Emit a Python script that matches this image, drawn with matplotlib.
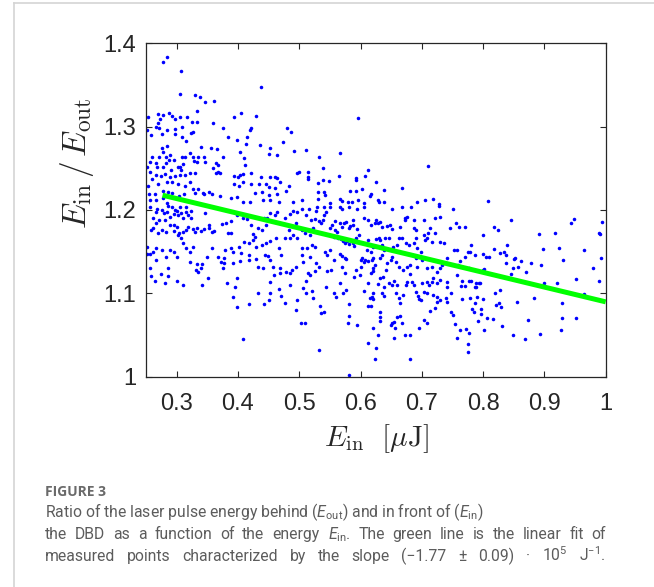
import matplotlib
matplotlib.use('Agg')
import matplotlib.pyplot as plt
from matplotlib.lines import Line2D
import numpy as np

# (E_in [uJ], E_in/E_out), region by region
pts_left_top = [
    (0.284, 1.384), (0.278, 1.377), (0.307, 1.367), (0.437, 1.348), (0.306, 1.339),
    (0.330, 1.338), (0.338, 1.336), (0.346, 1.329), (0.361, 1.331), (0.334, 1.319),
    (0.254, 1.312), (0.270, 1.315), (0.277, 1.314), (0.288, 1.316), (0.292, 1.313),
    (0.305, 1.312), (0.317, 1.312), (0.325, 1.306), (0.333, 1.305), (0.297, 1.309),
    (0.273, 1.309), (0.270, 1.304), (0.266, 1.300), (0.272, 1.298), (0.360, 1.304),
    (0.393, 1.312), (0.405, 1.316), (0.430, 1.313), (0.422, 1.298), (0.420, 1.296),
    (0.376, 1.298), (0.327, 1.294), (0.323, 1.292), (0.308, 1.299), (0.297, 1.297),
    (0.284, 1.296), (0.276, 1.291), (0.258, 1.290), (0.251, 1.296), (0.297, 1.291),
    (0.309, 1.287), (0.315, 1.283), (0.383, 1.288), (0.398, 1.284), (0.414, 1.287),
    (0.413, 1.279), (0.436, 1.278), (0.473, 1.282), (0.480, 1.298), (0.486, 1.293),
    (0.491, 1.271), (0.452, 1.274), (0.451, 1.267), (0.463, 1.266), (0.404, 1.269),
    (0.410, 1.262), (0.411, 1.254), (0.376, 1.263), (0.366, 1.273), (0.356, 1.274),
    (0.340, 1.275), (0.321, 1.268), (0.309, 1.264), (0.313, 1.263), (0.327, 1.264),
    (0.335, 1.263), (0.345, 1.263), (0.347, 1.257), (0.333, 1.258), (0.329, 1.259),
    (0.310, 1.255), (0.305, 1.251), (0.302, 1.252), (0.296, 1.260), (0.289, 1.266),
    (0.285, 1.277), (0.276, 1.274), (0.278, 1.269), (0.283, 1.264), (0.288, 1.260),
    (0.282, 1.256), (0.272, 1.263), (0.267, 1.256), (0.268, 1.251), (0.259, 1.264),
    (0.257, 1.257), (0.252, 1.251), (0.257, 1.245), (0.267, 1.242), (0.259, 1.237),
    (0.274, 1.241), (0.281, 1.243), (0.289, 1.239), (0.297, 1.241), (0.305, 1.242),
    (0.314, 1.242), (0.322, 1.244), (0.330, 1.244), (0.307, 1.248), (0.290, 1.248),
    (0.278, 1.251), (0.254, 1.229), (0.270, 1.231), (0.284, 1.233), (0.292, 1.233),
    (0.302, 1.231), (0.313, 1.229), (0.322, 1.233), (0.327, 1.225), (0.335, 1.225),
    (0.343, 1.220), (0.352, 1.221), (0.359, 1.250), (0.364, 1.256), (0.367, 1.254),
    (0.364, 1.244), (0.368, 1.246), (0.371, 1.244), (0.393, 1.241), (0.400, 1.239),
    (0.403, 1.242), (0.409, 1.243), (0.422, 1.244), (0.393, 1.231), (0.401, 1.229),
    (0.409, 1.233), (0.421, 1.231), (0.434, 1.231), (0.437, 1.239), (0.453, 1.240),
    (0.460, 1.240), (0.464, 1.238), (0.468, 1.234), (0.461, 1.226), (0.451, 1.227),
    (0.446, 1.231), (0.428, 1.220), (0.440, 1.221), (0.450, 1.218), (0.463, 1.219),
    (0.479, 1.223), (0.483, 1.229), (0.496, 1.244), (0.499, 1.246), (0.490, 1.210),
    (0.467, 1.210), (0.453, 1.212), (0.441, 1.212), (0.420, 1.210), (0.409, 1.210),
    (0.398, 1.215), (0.389, 1.214), (0.370, 1.217), (0.358, 1.219), (0.345, 1.219),
    (0.330, 1.220), (0.312, 1.219), (0.304, 1.217), (0.293, 1.220), (0.286, 1.222),
    (0.277, 1.223), (0.265, 1.219), (0.255, 1.219), (0.257, 1.212), (0.267, 1.212),
    (0.277, 1.214), (0.284, 1.208),
]

pts_left_bottom = [
    (0.257, 1.204), (0.268, 1.201), (0.267, 1.198), (0.276, 1.200), (0.279, 1.196),
    (0.286, 1.205), (0.285, 1.198), (0.293, 1.204), (0.297, 1.200), (0.301, 1.199),
    (0.305, 1.203), (0.307, 1.197), (0.315, 1.203), (0.315, 1.198), (0.323, 1.199),
    (0.319, 1.194), (0.324, 1.190), (0.311, 1.190), (0.303, 1.194), (0.296, 1.195),
    (0.289, 1.192), (0.281, 1.188), (0.272, 1.188), (0.262, 1.190), (0.266, 1.184),
    (0.262, 1.179), (0.258, 1.176), (0.270, 1.172), (0.276, 1.176), (0.283, 1.174),
    (0.289, 1.182), (0.295, 1.182), (0.300, 1.180), (0.296, 1.175), (0.303, 1.170),
    (0.307, 1.166), (0.304, 1.172), (0.310, 1.174), (0.316, 1.176), (0.319, 1.180),
    (0.326, 1.177), (0.330, 1.174), (0.334, 1.178), (0.339, 1.175), (0.345, 1.177),
    (0.353, 1.178), (0.357, 1.174), (0.361, 1.175), (0.352, 1.182), (0.346, 1.196),
    (0.374, 1.183), (0.380, 1.184), (0.388, 1.187), (0.384, 1.172), (0.389, 1.172),
    (0.398, 1.194), (0.409, 1.191), (0.414, 1.189), (0.422, 1.182), (0.425, 1.171),
    (0.428, 1.168), (0.433, 1.178), (0.439, 1.176), (0.446, 1.182), (0.442, 1.190),
    (0.448, 1.191), (0.452, 1.197), (0.460, 1.194), (0.463, 1.198), (0.477, 1.190),
    (0.485, 1.195), (0.490, 1.199), (0.497, 1.198), (0.495, 1.185), (0.484, 1.176),
    (0.490, 1.170), (0.485, 1.166), (0.477, 1.166), (0.467, 1.155), (0.462, 1.166),
    (0.452, 1.163), (0.446, 1.160), (0.439, 1.158), (0.430, 1.156), (0.425, 1.164),
    (0.418, 1.161), (0.410, 1.162), (0.401, 1.156), (0.392, 1.150), (0.388, 1.155),
    (0.379, 1.152), (0.378, 1.143), (0.378, 1.136), (0.373, 1.138), (0.368, 1.144),
    (0.357, 1.154), (0.349, 1.144), (0.342, 1.135), (0.339, 1.130), (0.333, 1.135),
    (0.327, 1.156), (0.322, 1.150), (0.316, 1.154), (0.311, 1.160), (0.300, 1.144),
    (0.295, 1.150), (0.289, 1.152), (0.283, 1.144), (0.276, 1.152), (0.267, 1.154),
    (0.262, 1.150), (0.252, 1.156), (0.251, 1.147), (0.257, 1.147), (0.267, 1.140),
    (0.257, 1.130), (0.258, 1.121), (0.265, 1.115), (0.274, 1.123), (0.281, 1.113),
    (0.286, 1.130), (0.286, 1.121), (0.301, 1.115), (0.311, 1.110), (0.322, 1.138),
    (0.332, 1.128), (0.335, 1.126), (0.341, 1.110), (0.351, 1.119), (0.375, 1.130),
    (0.382, 1.112), (0.392, 1.137), (0.403, 1.139), (0.405, 1.148), (0.418, 1.146),
    (0.418, 1.140), (0.429, 1.141), (0.433, 1.132), (0.441, 1.130), (0.444, 1.146),
    (0.449, 1.145), (0.452, 1.140), (0.457, 1.132), (0.459, 1.122), (0.452, 1.114),
    (0.468, 1.130), (0.470, 1.146), (0.468, 1.124), (0.479, 1.126), (0.485, 1.124),
    (0.488, 1.128), (0.495, 1.132), (0.497, 1.166), (0.485, 1.110), (0.467, 1.105),
    (0.471, 1.097), (0.476, 1.089), (0.453, 1.100), (0.451, 1.092), (0.442, 1.087),
    (0.432, 1.101), (0.418, 1.087), (0.399, 1.118), (0.396, 1.108), (0.392, 1.096),
    (0.398, 1.084), (0.409, 1.045), (0.497, 1.092), (0.495, 1.080),
]

pts_mid_top = [
    (0.596, 1.310), (0.511, 1.272), (0.532, 1.264), (0.567, 1.268), (0.710, 1.253),
    (0.538, 1.250), (0.514, 1.246), (0.515, 1.240), (0.515, 1.237), (0.565, 1.241),
    (0.592, 1.238), (0.592, 1.236), (0.608, 1.241), (0.612, 1.248), (0.626, 1.234),
    (0.538, 1.236), (0.548, 1.235), (0.531, 1.232), (0.530, 1.221), (0.540, 1.221),
    (0.542, 1.218), (0.583, 1.223), (0.592, 1.223), (0.602, 1.225), (0.616, 1.217),
    (0.617, 1.219), (0.638, 1.224), (0.667, 1.226), (0.567, 1.213), (0.569, 1.211),
    (0.579, 1.209), (0.586, 1.210), (0.596, 1.212), (0.605, 1.208), (0.629, 1.212),
    (0.630, 1.210), (0.639, 1.210), (0.692, 1.210), (0.706, 1.212), (0.718, 1.213),
    (0.728, 1.207), (0.504, 1.212), (0.530, 1.213), (0.550, 1.208), (0.808, 1.211),
]

pts_mid_bottom = [
    (0.504, 1.201), (0.516, 1.201), (0.528, 1.199), (0.529, 1.204), (0.541, 1.203),
    (0.543, 1.198), (0.541, 1.194), (0.551, 1.204), (0.566, 1.203), (0.569, 1.201),
    (0.581, 1.204), (0.594, 1.201), (0.606, 1.204), (0.652, 1.201), (0.668, 1.203),
    (0.683, 1.204), (0.728, 1.205), (0.751, 1.201), (0.511, 1.194), (0.519, 1.188),
    (0.526, 1.189), (0.532, 1.187), (0.535, 1.184), (0.539, 1.188), (0.522, 1.178),
    (0.529, 1.174), (0.518, 1.170), (0.510, 1.172), (0.504, 1.176), (0.504, 1.154),
    (0.504, 1.146), (0.506, 1.138), (0.513, 1.155), (0.521, 1.158), (0.526, 1.156),
    (0.518, 1.144), (0.528, 1.136), (0.532, 1.132), (0.526, 1.127), (0.518, 1.122),
    (0.514, 1.125), (0.511, 1.115), (0.506, 1.106), (0.511, 1.101), (0.521, 1.103),
    (0.523, 1.094), (0.534, 1.085), (0.535, 1.076), (0.540, 1.078), (0.503, 1.064),
    (0.510, 1.065), (0.532, 1.032), (0.544, 1.108), (0.546, 1.127), (0.552, 1.128),
    (0.550, 1.178), (0.553, 1.182), (0.559, 1.176), (0.562, 1.174), (0.559, 1.187),
    (0.566, 1.185), (0.570, 1.180), (0.573, 1.185), (0.576, 1.186), (0.582, 1.178),
    (0.583, 1.181), (0.587, 1.188), (0.588, 1.182), (0.556, 1.168), (0.564, 1.166),
    (0.568, 1.165), (0.572, 1.163), (0.575, 1.161), (0.578, 1.163), (0.581, 1.159),
    (0.588, 1.160), (0.590, 1.157), (0.595, 1.177), (0.597, 1.170), (0.593, 1.166),
    (0.556, 1.140), (0.567, 1.147), (0.570, 1.145), (0.574, 1.142), (0.577, 1.141),
    (0.569, 1.132), (0.551, 1.152), (0.542, 1.150), (0.546, 1.146), (0.566, 1.113),
    (0.572, 1.100), (0.576, 1.104), (0.556, 1.100), (0.560, 1.096), (0.581, 1.087),
    (0.582, 1.073), (0.579, 1.065), (0.595, 1.062), (0.575, 1.124), (0.589, 1.120),
    (0.599, 1.122), (0.593, 1.128), (0.601, 1.132), (0.605, 1.138), (0.600, 1.140),
    (0.602, 1.142), (0.608, 1.140), (0.613, 1.139), (0.619, 1.140), (0.620, 1.143),
    (0.610, 1.152), (0.617, 1.150), (0.621, 1.156), (0.613, 1.164), (0.605, 1.103),
    (0.613, 1.112), (0.617, 1.124), (0.620, 1.127), (0.621, 1.130), (0.624, 1.134),
    (0.632, 1.142), (0.635, 1.146), (0.638, 1.152), (0.635, 1.158), (0.626, 1.165),
    (0.630, 1.167), (0.632, 1.164), (0.640, 1.166), (0.646, 1.166), (0.653, 1.156),
    (0.650, 1.152), (0.660, 1.158), (0.662, 1.167), (0.668, 1.166), (0.675, 1.161),
    (0.679, 1.158), (0.687, 1.161), (0.690, 1.166), (0.692, 1.155), (0.699, 1.150),
    (0.706, 1.164), (0.710, 1.172), (0.709, 1.166), (0.717, 1.162), (0.703, 1.170),
    (0.688, 1.178), (0.687, 1.188), (0.690, 1.176), (0.673, 1.188), (0.676, 1.192),
    (0.672, 1.190), (0.665, 1.180), (0.651, 1.177), (0.648, 1.182), (0.644, 1.181),
    (0.635, 1.180), (0.632, 1.186), (0.628, 1.185), (0.626, 1.188), (0.623, 1.184),
    (0.617, 1.182), (0.613, 1.188), (0.605, 1.190), (0.722, 1.190), (0.729, 1.192),
    (0.704, 1.188), (0.713, 1.178), (0.722, 1.172), (0.730, 1.162), (0.737, 1.160),
    (0.746, 1.178), (0.752, 1.152), (0.741, 1.142), (0.733, 1.134), (0.729, 1.130),
    (0.724, 1.126), (0.717, 1.132), (0.709, 1.130), (0.700, 1.140), (0.692, 1.132),
    (0.690, 1.142), (0.681, 1.134), (0.676, 1.132), (0.670, 1.128), (0.662, 1.132),
    (0.658, 1.138), (0.651, 1.144), (0.649, 1.140), (0.644, 1.136), (0.642, 1.128),
    (0.637, 1.120), (0.631, 1.118), (0.638, 1.108), (0.635, 1.100), (0.628, 1.111),
    (0.621, 1.101), (0.619, 1.096), (0.616, 1.094), (0.613, 1.085), (0.617, 1.085),
    (0.621, 1.093), (0.631, 1.078), (0.632, 1.072), (0.632, 1.067), (0.620, 1.059),
    (0.628, 1.050), (0.626, 1.035), (0.624, 1.021), (0.613, 1.041), (0.639, 1.097),
    (0.646, 1.113), (0.651, 1.110), (0.655, 1.115), (0.660, 1.110), (0.658, 1.100),
    (0.662, 1.094), (0.665, 1.088), (0.670, 1.098), (0.675, 1.110), (0.676, 1.114),
    (0.681, 1.123), (0.684, 1.114), (0.688, 1.110), (0.691, 1.102), (0.693, 1.097),
    (0.696, 1.093), (0.699, 1.092), (0.704, 1.102), (0.709, 1.100), (0.711, 1.110),
    (0.717, 1.114), (0.719, 1.098), (0.725, 1.096), (0.730, 1.092), (0.724, 1.090),
    (0.722, 1.082), (0.714, 1.079), (0.704, 1.068), (0.709, 1.065), (0.695, 1.059),
    (0.681, 1.050), (0.681, 1.021), (0.672, 1.050), (0.665, 1.073), (0.668, 1.064),
    (0.660, 1.072), (0.655, 1.066), (0.651, 1.064), (0.650, 1.062), (0.655, 1.047),
    (0.657, 1.059), (0.740, 1.094), (0.741, 1.090), (0.747, 1.101), (0.748, 1.078),
    (0.751, 1.074), (0.754, 1.063), (0.741, 1.108), (0.741, 1.114), (0.725, 1.112),
    (0.729, 1.116), (0.719, 1.118), (0.709, 1.114), (0.700, 1.113), (0.581, 1.002),
]

pts_right = [
    (0.756, 1.184), (0.761, 1.180), (0.771, 1.180), (0.845, 1.188), (0.818, 1.180),
    (0.824, 1.176), (0.800, 1.170), (0.780, 1.158), (0.776, 1.150), (0.778, 1.150),
    (0.771, 1.144), (0.787, 1.146), (0.800, 1.147), (0.805, 1.144), (0.809, 1.144),
    (0.818, 1.153), (0.828, 1.149), (0.834, 1.150), (0.838, 1.146), (0.839, 1.158),
    (0.838, 1.137), (0.850, 1.141), (0.852, 1.143), (0.857, 1.132), (0.861, 1.139),
    (0.848, 1.131), (0.845, 1.123), (0.870, 1.126), (0.878, 1.136), (0.891, 1.171),
    (0.897, 1.153), (0.894, 1.134), (0.899, 1.113), (0.918, 1.173), (0.923, 1.155),
    (0.931, 1.140), (0.943, 1.184), (0.949, 1.189), (0.965, 1.152), (0.989, 1.173),
    (0.990, 1.171), (0.994, 1.186), (0.993, 1.142), (0.979, 1.131), (0.989, 1.115),
    (0.952, 1.117), (0.920, 1.112), (0.964, 1.099), (0.951, 1.071), (0.928, 1.088),
    (0.928, 1.071), (0.927, 1.056), (0.892, 1.051), (0.883, 1.095), (0.873, 1.068),
    (0.868, 1.045), (0.848, 1.050), (0.856, 1.090), (0.831, 1.061), (0.829, 1.084),
    (0.826, 1.088), (0.821, 1.086), (0.828, 1.104), (0.819, 1.100), (0.816, 1.069),
    (0.806, 1.070), (0.802, 1.056), (0.799, 1.093), (0.796, 1.081), (0.796, 1.075),
    (0.792, 1.067), (0.790, 1.096), (0.787, 1.088), (0.782, 1.081), (0.785, 1.078),
    (0.778, 1.095), (0.793, 1.113), (0.795, 1.113), (0.789, 1.113), (0.786, 1.108),
    (0.789, 1.108), (0.777, 1.115), (0.780, 1.115), (0.766, 1.115), (0.764, 1.109),
    (0.770, 1.109), (0.765, 1.093), (0.763, 1.056), (0.772, 1.057), (0.777, 1.053),
    (0.758, 1.047), (0.776, 1.039), (0.775, 1.030), (0.799, 1.128), (0.801, 1.129),
    (0.777, 1.131), (0.758, 1.122), (0.763, 1.139), (0.759, 1.134), (0.757, 1.152),
]

# linear fit (green line), slope per uJ
fit_slope = -0.177
fit_intercept = 1.2668
fit_range = [0.277, 1.0]

xticks = [0.3, 0.4, 0.5, 0.6, 0.7, 0.8, 0.9, 1.0]
xtick_labels = ['0.3', '0.4', '0.5', '0.6', '0.7', '0.8', '0.9', '1']
yticks = [1.0, 1.1, 1.2, 1.3, 1.4]
ytick_labels = ['1', '1.1', '1.2', '1.3', '1.4']

caption_head = 'FIGURE 3'
caption_lines = [
    r'Ratio of the laser pulse energy behind ($E_{\mathrm{out}}$) and in front of ($E_{\mathrm{in}}$)',
    r'the DBD as a function of the energy $E_{\mathrm{in}}$. The green line is the linear fit of',
    r'measured points characterized by the slope (−1.77 ± 0.09) · 10$^{5}$ J$^{−1}$.',
]

cap_font = 'Roboto'
plt.rcParams['mathtext.fontset'] = 'custom'
plt.rcParams['mathtext.rm'] = cap_font
plt.rcParams['mathtext.it'] = cap_font + ':italic'
plt.rcParams['mathtext.bf'] = cap_font + ':bold'

W, H = 654, 587
fig = plt.figure(figsize=(W / 100, H / 100), dpi=100)
ax = fig.add_axes([146 / W, 1 - 376.7 / H, 459.7 / W, 333.4 / H])

all_pts = np.array(pts_left_top + pts_left_bottom + pts_mid_top + pts_mid_bottom + pts_right)
ax.scatter(all_pts[:, 0], all_pts[:, 1], s=6.5, color='#0000ff', linewidths=0, zorder=2)

fx = np.array(fit_range)
ax.plot(fx, fit_slope * fx + fit_intercept, color='#00ff00', lw=3.6, solid_capstyle='butt', zorder=3)

ax.set_xlim(0.25, 1.0)
ax.set_ylim(1.0, 1.4)
ax.set_xticks(xticks)
ax.set_xticklabels(xtick_labels)
ax.set_yticks(yticks)
ax.set_yticklabels(ytick_labels)

dark = '#262626'
for s in ax.spines.values():
    s.set_color(dark)
    s.set_linewidth(0.9)
ax.tick_params(direction='in', length=4, width=0.8, colors=dark, top=True, right=True,
               labelsize=17)
ax.tick_params(axis='x', pad=12)
ax.tick_params(axis='y', pad=7)
for lab in ax.get_xticklabels() + ax.get_yticklabels():
    lab.set_fontfamily('Liberation Sans')

ax.set_xlabel(r'$E_{\rm in}\ \ [\mu{\rm J}]$', fontsize=21, color=dark, math_fontfamily='cm')
ax.xaxis.label.set_va('center')
ax.xaxis.set_label_coords(0.5, -0.187)
ax.set_ylabel(r'$E_{\rm in}\,/\,E_{\rm out}$', fontsize=24, color=dark, math_fontfamily='cm')
ax.yaxis.label.set_va('center')
ax.yaxis.label.set_ha('center')
ax.yaxis.set_label_coords(-0.150, 0.64)

# light frame around the figure panel
frame = '#d4d4d4'
fig.add_artist(Line2D([14 / W, 14 / W], [0, 1 - 3 / H], color=frame, lw=1.2))
fig.add_artist(Line2D([14 / W, 1], [1 - 3 / H, 1 - 3 / H], color=frame, lw=1.2))

# caption
cap_color = '#5c5c5c'
fig.text(45 / W, 1 - 496 / H, caption_head, fontsize=10, fontweight='bold',
         family='Open Sans', color='#6a6a6a', va='baseline')

renderer = fig.canvas.get_renderer()
baselines = [517, 539, 561]
x_left, x_right = 45, 606
for i, line in enumerate(caption_lines):
    yb = 1 - baselines[i] / H
    if i == 0:
        fig.text(x_left / W, yb, line, fontsize=11.3, family=cap_font, color=cap_color,
                 va='baseline', math_fontfamily='custom')
        continue
    # justified lines: spread the words out to the right margin
    words = line.split(' ')
    texts = [fig.text(x_left / W, yb, w, fontsize=11.3, family=cap_font, color=cap_color,
                      va='baseline', math_fontfamily='custom') for w in words]
    widths = [t.get_window_extent(renderer).width for t in texts]
    gap = (x_right - x_left - sum(widths)) / (len(words) - 1)
    xpos = x_left
    for t, w in zip(texts, widths):
        t.set_x(xpos / W)
        xpos += w + gap

fig.savefig('out.png', dpi=100)
